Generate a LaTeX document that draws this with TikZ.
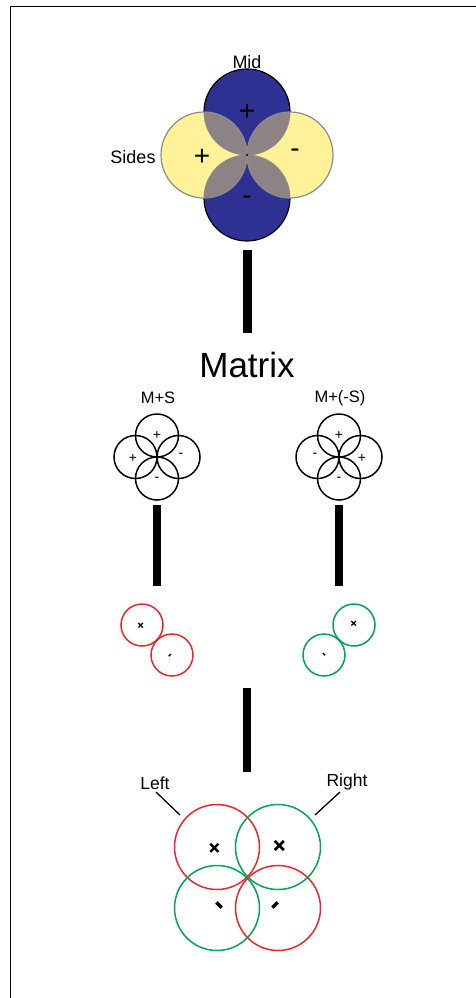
\documentclass[tikz,border=0pt]{standalone}
\usepackage{fontspec}
\setmainfont{Liberation Sans}
\definecolor{cblue}{RGB}{46,49,146}
\definecolor{cyel}{RGB}{255,242,153}
\definecolor{clens}{RGB}{141,131,133}
\definecolor{cedge}{RGB}{140,140,140}
\definecolor{cred}{RGB}{232,40,46}
\definecolor{cgreen}{RGB}{0,166,81}
\tikzset{
  lbl/.style={inner sep=0pt,font=\fontsize{18}{20}\selectfont},
  bigsign/.style={inner sep=0pt,font=\fontsize{28}{30}\selectfont},
  smallsign/.style={inner sep=0pt,font=\fontsize{14}{16}\selectfont},
  tinymark/.style={inner sep=0pt,font=\fontsize{13}{14}\selectfont\bfseries},
  midmark/.style={inner sep=0pt,font=\fontsize{23}{24}\selectfont\bfseries},
  bar/.style={line width=9pt},
  thinc/.style={line width=1.5pt},
}
\begin{document}
\begin{tikzpicture}[x=1pt,y=-1pt]
\useasboundingbox (0,0) rectangle (476,998);
\draw[line width=1pt] (476,7) -- (10,7) -- (10,998);

% ---------- top clover ----------
\fill[cblue] (247,112) circle (43pt);
\fill[cblue] (247,198) circle (43pt);
\draw[line width=1.2pt] (247,112) circle (43pt);
\draw[line width=1.2pt] (247,198) circle (43pt);
\fill[cyel] (204,155) circle (43pt);
\fill[cyel] (290,155) circle (43pt);
\foreach \b in {112,198}{
  \foreach \s in {204,290}{
    \begin{scope}
      \clip (247,\b) circle (43pt);
      \fill[clens] (\s,155) circle (43pt);
    \end{scope}
  }
}
\begin{scope}
  \clip (204,155) circle (43pt) (290,155) circle (43pt);
  \draw[cedge,line width=0.8pt] (247,112) circle (43pt);
  \draw[cedge,line width=0.8pt] (247,198) circle (43pt);
\end{scope}
\draw[cedge,line width=1.2pt] (204,155) circle (43pt);
\draw[cedge,line width=1.2pt] (290,155) circle (43pt);
\fill (247,155) circle (1.2pt);

\node[lbl] (mid) at (247,62) {Mid};
\node[lbl] (sides) at (133,157) {Sides};
\node[bigsign] (tp) at (247,112) {+};
\node[bigsign] (lp) at (202,157) {+};
\node[bigsign] (rm) at (295,153) {-};
\node[bigsign] (bm) at (247,200) {-};

\coordinate (b1t) at (247,250);
\coordinate (b1b) at (247,333);
\draw[bar] (b1t) -- (b1b);

\node[inner sep=0pt,font=\fontsize{35}{38}\selectfont] (matrix) at (247,365) {Matrix};

% ---------- small clovers ----------
\node[lbl,font=\fontsize{16.5}{18}\selectfont] (ms) at (158,398) {M+S};
\node[lbl,font=\fontsize{16.5}{18}\selectfont] (mns) at (340,398) {M+(-S)};

\foreach \cx in {157,339}{
  \draw[thinc] (\cx,435.5) circle (21.5pt);
  \draw[thinc] (\cx,478.5) circle (21.5pt);
  \draw[thinc] (\cx-21.5,457) circle (21.5pt);
  \draw[thinc] (\cx+21.5,457) circle (21.5pt);
}
\node[smallsign] (a1) at (157,435) {+};
\node[smallsign] (a2) at (133,458) {+};
\node[smallsign] (a3) at (181,455) {-};
\node[smallsign] (a4) at (157,479) {-};
\node[smallsign] (c1) at (339,435) {+};
\node[smallsign] (c2) at (315,455) {-};
\node[smallsign] (c3) at (362,458) {+};
\node[smallsign] (c4) at (339,479) {-};

\coordinate (b2t) at (157,505);
\coordinate (b2b) at (157,586);
\draw[line width=7.5pt] (b2t) -- (b2b);
\coordinate (b3t) at (339,505);
\coordinate (b3b) at (339,586);
\draw[line width=7.5pt] (b3t) -- (b3b);

% ---------- pairs ----------
\draw[cred,thinc] (142,625) circle (21pt);
\draw[cred,thinc] (172,655) circle (21pt);
\draw[cgreen,thinc] (354,625) circle (21pt);
\draw[cgreen,thinc] (324,655) circle (21pt);
\node[tinymark,rotate=45] (rx) at (141,626) {+};
\node[tinymark,rotate=45] (rs) at (171,656) {-};
\node[tinymark,rotate=45] (gx) at (354,624) {+};
\node[tinymark,rotate=-45] (gs) at (323,656) {-};

\coordinate (b4t) at (247,688);
\coordinate (b4b) at (247,772);
\draw[line width=8pt] (b4t) -- (b4b);

% ---------- bottom clover ----------
\draw[cred,thinc] (217,847) circle (42.5pt);
\draw[cgreen,thinc] (217,908) circle (42.5pt);
\draw[cred,thinc] (278,908) circle (42.5pt);
\draw[cgreen,thinc] (278,847) circle (42.5pt);
\node[midmark,rotate=45] (x1) at (215,849) {+};
\node[midmark,rotate=45,font=\fontsize{26}{28}\selectfont\bfseries] (x2) at (280,847) {+};
\node[midmark,rotate=-45,font=\fontsize{30}{32}\selectfont\bfseries] (s1) at (217,908) {-};
\node[midmark,rotate=45,font=\fontsize{30}{32}\selectfont\bfseries] (s2) at (278,908) {-};

\node[lbl,font=\fontsize{17.5}{19}\selectfont] (left) at (155,783) {Left};
\node[lbl,font=\fontsize{17.5}{19}\selectfont] (right) at (347,782) {Right};
\coordinate (le) at (180,815);
\coordinate (re) at (315,815);
\draw[line width=1.3pt] (156,792) -- (le);
\draw[line width=1.3pt] (340,792) -- (re);
\end{tikzpicture}
\end{document}
